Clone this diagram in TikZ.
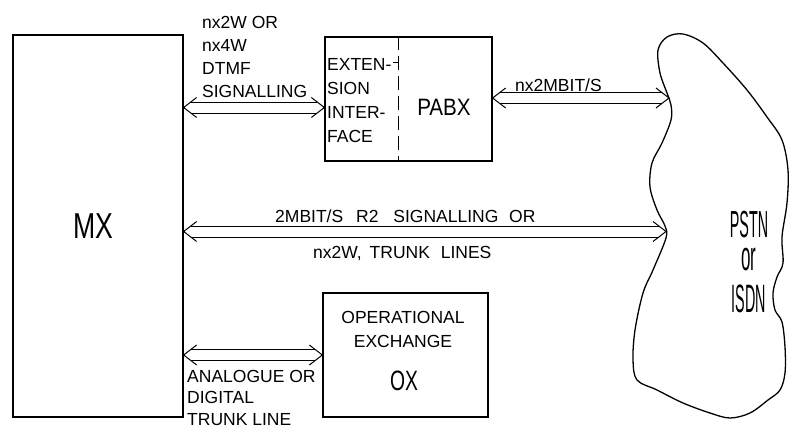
\documentclass[tikz,border=0pt]{standalone}
\usepackage{fontspec}
\setmainfont{Liberation Sans}
\usetikzlibrary{calc}
\newcommand\smallf{\fontsize{17.5}{20}\selectfont}
\newcommand\dblarrow[2]{%
  \draw[conn] ($(#1)+(7,-5.5)$) -- ($(#2)+(-7,-5.5)$);
  \draw[conn] ($(#1)+(7,5.5)$) -- ($(#2)+(-7,5.5)$);
  \draw[conn] ($(#1)+(13,-10)$) -- (#1) -- ($(#1)+(13,10)$);
  \draw[conn] ($(#2)+(-13,-10)$) -- (#2) -- ($(#2)+(-13,10)$);
}
\tikzset{
  box/.style={draw, line width=1.3pt, inner sep=0pt, minimum width=#1},
  conn/.style={line width=1pt, line join=miter},
  lbl/.style={inner sep=0pt, anchor=base west, font=\smallf},
  clbl/.style={inner sep=0pt, anchor=base, font=\smallf},
}
\begin{document}
\begin{tikzpicture}[x=1pt, y=-1pt]
\useasboundingbox (0,0) rectangle (790,434);
% boxes
\node[box=170pt, minimum height=382pt] (mx) at (98,226) {};
\node[box=167pt, minimum height=124pt] (pabx) at (408.5,99) {};
\node[box=165pt, minimum height=124pt] (ox) at (405.5,355) {};
% dashed divider
\coordinate (dx) at (398,0);
\draw[line width=1pt, dash pattern=on 14pt off 6pt] (pabx.north -| dx) -- (pabx.south -| dx);
\draw[line width=1pt] (393,62) -- (398,62);
% cloud
\draw[line width=1.3pt] plot[smooth cycle, tension=0.55] coordinates {
 (658,50) (667,37) (683,34) (703,43) (723,63) (747,90) (767,117) (782,140)
 (788,170) (787,203) (782,237) (783,263) (777,277) (773,293) (775,310) (782,322)
 (785,347) (785,373) (780,390) (768,400) (750,413) (730,418) (710,413) (683,403)
 (657,390) (637,380) (633,360) (635,330) (643,293) (653,270) (666,238) (665,226)
 (657,210) (650,187) (652,163) (662,143) (671,120) (671,105) (667,93) (660,73)};
\coordinate (c1) at (669,98);
\coordinate (c2) at (666,231.5);
% arrow rows
\coordinate (y1) at (0,107.5);
\coordinate (y2) at (0,98);
\coordinate (y3) at (0,231.5);
\coordinate (y4) at (0,355);
\coordinate (a1s) at (mx.east |- y1);
\coordinate (a1e) at (pabx.west |- y1);
\coordinate (a2s) at (pabx.east |- y2);
\coordinate (a3s) at (mx.east |- y3);
\coordinate (a4s) at (mx.east |- y4);
\coordinate (a4e) at (ox.west |- y4);
\dblarrow{a1s}{a1e}
\dblarrow{a2s}{c1}
\dblarrow{a3s}{c2}
\dblarrow{a4s}{a4e}
% texts
\node[inner sep=0pt, anchor=base] (mxt) at (93,238) {\scalebox{0.74}[1]{\fontsize{36}{40}\selectfont MX}};
\node[lbl] (t1) at (202,28) {nx2W OR};
\node[lbl] (t2) at (202,51) {nx4W};
\node[lbl] (t3) at (202,74) {DTMF};
\node[lbl] (t4) at (202,97) {SIGNALLING};
\node[lbl] (e1) at (327,70) {EXTEN-};
\node[lbl] (e2) at (327,94) {SION};
\node[lbl] (e3) at (327,118) {INTER-};
\node[lbl] (e4) at (327,142) {FACE};
\node[inner sep=0pt, anchor=base] (pabxt) at (444,115) {\scalebox{0.87}[1]{\fontsize{23.7}{26}\selectfont PABX}};
\node[lbl] (m1) at (515,91) {nx2MBIT/S};
\node[lbl] (m2) at (275,222) {2MBIT/S\hspace{8pt} R2\hspace{10pt} SIGNALLING\hspace{6pt} OR};
\node[lbl] (m3) at (313,258) {nx2W,\hspace{3pt} TRUNK\hspace{6pt} LINES};
\node[clbl] (o1) at (403,323) {OPERATIONAL};
\node[clbl] (o2) at (403,347) {EXCHANGE};
\node[inner sep=0pt, anchor=base] (oxt) at (404,390) {\scalebox{0.69}[1]{\fontsize{28}{30}\selectfont OX}};
\node[lbl] (b1) at (187,382) {ANALOGUE OR};
\node[lbl] (b2) at (187,403) {DIGITAL};
\node[lbl] (b3) at (187,425) {TRUNK LINE};
\node[inner sep=0pt, anchor=base] (p1) at (749,237) {\scalebox{0.38}[1]{\fontsize{37.7}{40}\selectfont PSTN}};
\node[inner sep=0pt, anchor=base] (p2) at (749,270) {\scalebox{0.45}[1.1]{\fontsize{37.7}{40}\selectfont or}};
\node[inner sep=0pt, anchor=base] (p3) at (749,312) {\scalebox{0.38}[1.05]{\fontsize{37.7}{40}\selectfont ISDN}};
\end{tikzpicture}
\end{document}
